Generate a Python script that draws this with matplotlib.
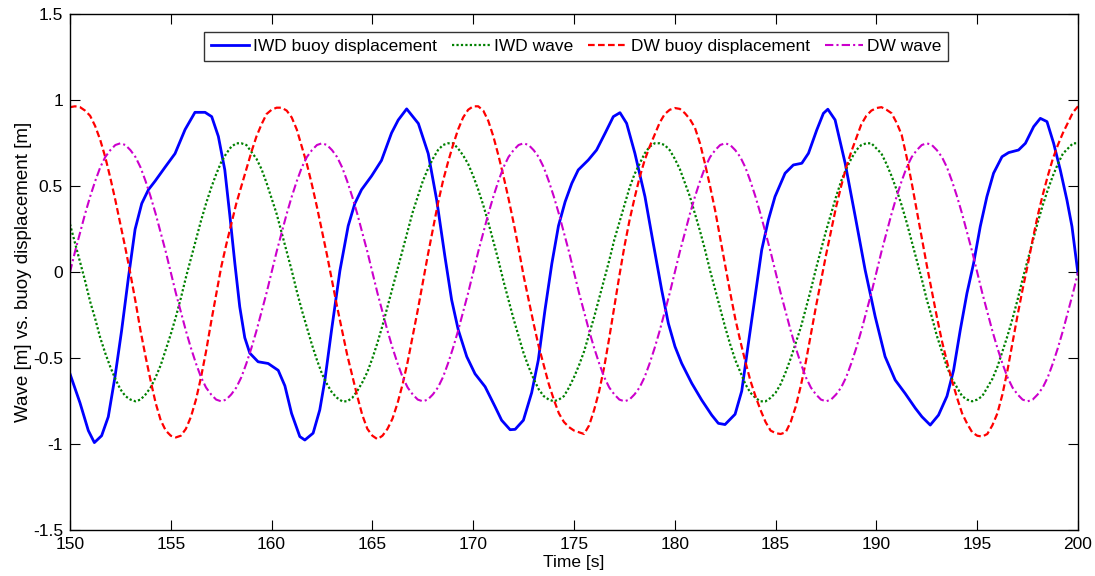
import numpy as np
import matplotlib
matplotlib.use("Agg")
import matplotlib.pyplot as plt

plt.rcParams['font.family'] = ['Liberation Sans', 'DejaVu Sans']

# ---------------- data ----------------
# common sampling grid for the wave / DW buoy series (0.25 s steps, 150..200 s)
time_grid = np.linspace(150.0, 200.0, 201)

iwd_wave = [
    0.28, 0.17, 0.06, -0.05, -0.17, -0.27, -0.38, -0.47, -0.55, -0.62,
    -0.68, -0.72, -0.74, -0.75, -0.74, -0.71, -0.67, -0.61, -0.54, -0.45,
    -0.36, -0.26, -0.15, -0.03, 0.08, 0.19, 0.30, 0.40, 0.49, 0.57,
    0.64, 0.69, 0.73, 0.75, 0.75, 0.74, 0.70, 0.66, 0.60, 0.52,
    0.43, 0.34, 0.23, 0.12, 0.01, -0.11, -0.22, -0.32, -0.42, -0.51,
    -0.59, -0.65, -0.70, -0.73, -0.75, -0.75, -0.73, -0.69, -0.64, -0.58,
    -0.50, -0.41, -0.31, -0.20, -0.09, 0.02, 0.13, 0.24, 0.35, 0.44,
    0.53, 0.60, 0.66, 0.71, 0.74, 0.75, 0.75, 0.72, 0.68, 0.63,
    0.56, 0.48, 0.39, 0.29, 0.18, 0.07, -0.05, -0.16, -0.27, -0.37,
    -0.47, -0.55, -0.62, -0.68, -0.72, -0.74, -0.75, -0.74, -0.72, -0.67,
    -0.61, -0.54, -0.46, -0.36, -0.26, -0.15, -0.04, 0.07, 0.19, 0.29,
    0.39, 0.49, 0.57, 0.63, 0.69, 0.73, 0.75, 0.75, 0.74, 0.71,
    0.66, 0.60, 0.52, 0.44, 0.34, 0.24, 0.13, 0.01, -0.10, -0.21,
    -0.32, -0.42, -0.51, -0.58, -0.65, -0.70, -0.73, -0.75, -0.75, -0.73,
    -0.70, -0.65, -0.58, -0.50, -0.41, -0.32, -0.21, -0.10, 0.02, 0.13,
    0.24, 0.34, 0.44, 0.53, 0.60, 0.66, 0.71, 0.74, 0.75, 0.75,
    0.72, 0.69, 0.63, 0.56, 0.48, 0.39, 0.29, 0.18, 0.07, -0.04,
    -0.16, -0.26, -0.37, -0.46, -0.55, -0.62, -0.67, -0.72, -0.74, -0.75,
    -0.74, -0.72, -0.67, -0.62, -0.55, -0.46, -0.37, -0.27, -0.16, -0.04,
    0.07, 0.18, 0.29, 0.39, 0.48, 0.56, 0.63, 0.69, 0.72, 0.75,
    0.75,
]

dw_buoy = [
    0.96, 0.965, 0.96, 0.94, 0.91, 0.85, 0.77, 0.67, 0.55, 0.42,
    0.28, 0.14, -0.01, -0.17, -0.34, -0.49, -0.63, -0.76, -0.86, -0.92,
    -0.95, -0.96, -0.95, -0.91, -0.84, -0.74, -0.61, -0.46, -0.29, -0.13,
    0.03, 0.16, 0.28, 0.40, 0.50, 0.60, 0.70, 0.79, 0.86, 0.92,
    0.945, 0.957, 0.957, 0.94, 0.90, 0.83, 0.73, 0.63, 0.51, 0.38,
    0.24, 0.10, -0.05, -0.20, -0.34, -0.48, -0.60, -0.72, -0.83, -0.91,
    -0.95, -0.97, -0.95, -0.91, -0.85, -0.76, -0.65, -0.52, -0.37, -0.22,
    -0.06, 0.10, 0.25, 0.40, 0.53, 0.64, 0.74, 0.83, 0.90, 0.945,
    0.965, 0.965, 0.94, 0.88, 0.79, 0.68, 0.56, 0.43, 0.29, 0.14,
    -0.02, -0.16, -0.30, -0.43, -0.54, -0.65, -0.74, -0.82, -0.87, -0.90,
    -0.92, -0.93, -0.94, -0.89, -0.80, -0.69, -0.55, -0.38, -0.20, -0.02,
    0.15, 0.30, 0.43, 0.55, 0.65, 0.73, 0.80, 0.87, 0.92, 0.945,
    0.955, 0.95, 0.925, 0.89, 0.84, 0.75, 0.63, 0.50, 0.36, 0.20,
    0.04, -0.12, -0.27, -0.40, -0.52, -0.63, -0.72, -0.80, -0.87, -0.92,
    -0.935, -0.94, -0.93, -0.87, -0.78, -0.66, -0.52, -0.36, -0.20, -0.05,
    0.10, 0.24, 0.38, 0.50, 0.61, 0.70, 0.78, 0.86, 0.91, 0.94,
    0.955, 0.96, 0.945, 0.925, 0.87, 0.80, 0.67, 0.52, 0.36, 0.20,
    0.04, -0.11, -0.26, -0.40, -0.52, -0.63, -0.73, -0.82, -0.88, -0.93,
    -0.95, -0.955, -0.94, -0.89, -0.82, -0.71, -0.57, -0.41, -0.25, -0.10,
    0.04, 0.19, 0.33, 0.45, 0.56, 0.66, 0.74, 0.81, 0.87, 0.93,
    0.965,
]

dw_wave = [
    0.00, 0.12, 0.23, 0.34, 0.44, 0.53, 0.61, 0.67, 0.71, 0.74,
    0.75, 0.74, 0.71, 0.67, 0.61, 0.53, 0.44, 0.34, 0.23, 0.12,
    0.00, -0.12, -0.23, -0.34, -0.44, -0.53, -0.61, -0.67, -0.71, -0.74,
    -0.75, -0.74, -0.71, -0.67, -0.61, -0.53, -0.44, -0.34, -0.23, -0.12,
    0.00, 0.12, 0.23, 0.34, 0.44, 0.53, 0.61, 0.67, 0.71, 0.74,
    0.75, 0.74, 0.71, 0.67, 0.61, 0.53, 0.44, 0.34, 0.23, 0.12,
    0.00, -0.12, -0.23, -0.34, -0.44, -0.53, -0.61, -0.67, -0.71, -0.74,
    -0.75, -0.74, -0.71, -0.67, -0.61, -0.53, -0.44, -0.34, -0.23, -0.12,
    0.00, 0.12, 0.23, 0.34, 0.44, 0.53, 0.61, 0.67, 0.71, 0.74,
    0.75, 0.74, 0.71, 0.67, 0.61, 0.53, 0.44, 0.34, 0.23, 0.12,
    0.00, -0.12, -0.23, -0.34, -0.44, -0.53, -0.61, -0.67, -0.71, -0.74,
    -0.75, -0.74, -0.71, -0.67, -0.61, -0.53, -0.44, -0.34, -0.23, -0.12,
    0.00, 0.12, 0.23, 0.34, 0.44, 0.53, 0.61, 0.67, 0.71, 0.74,
    0.75, 0.74, 0.71, 0.67, 0.61, 0.53, 0.44, 0.34, 0.23, 0.12,
    0.00, -0.12, -0.23, -0.34, -0.44, -0.53, -0.61, -0.67, -0.71, -0.74,
    -0.75, -0.74, -0.71, -0.67, -0.61, -0.53, -0.44, -0.34, -0.23, -0.12,
    0.00, 0.12, 0.23, 0.34, 0.44, 0.53, 0.61, 0.67, 0.71, 0.74,
    0.75, 0.74, 0.71, 0.67, 0.61, 0.53, 0.44, 0.34, 0.23, 0.12,
    0.00, -0.12, -0.23, -0.34, -0.44, -0.53, -0.61, -0.67, -0.71, -0.74,
    -0.75, -0.74, -0.71, -0.67, -0.61, -0.53, -0.44, -0.34, -0.23, -0.12,
    0.00,
]

# IWD buoy displacement: irregular, read at its own time points
iwd_buoy_time = [
    150.0, 150.5, 150.91, 151.21, 151.57, 151.9, 152.23, 152.56, 152.9, 153.23,
    153.56, 153.89, 154.22, 154.71, 155.21, 155.71, 156.2, 156.7, 157.03, 157.36,
    157.68, 157.93, 158.18, 158.42, 158.67, 158.92, 159.33, 159.83, 160.33, 160.66,
    160.99, 161.4, 161.65, 162.06, 162.39, 162.64, 162.97, 163.39, 163.8, 164.13,
    164.46, 164.96, 165.45, 165.95, 166.28, 166.7, 167.28, 167.77, 168.19, 168.6,
    168.93, 169.26, 169.68, 170.09, 170.59, 171.08, 171.41, 171.83, 172.08, 172.49,
    172.9, 173.23, 173.56, 173.9, 174.23, 174.56, 174.89, 175.21, 175.71, 176.12,
    176.54, 176.95, 177.28, 177.61, 178.02, 178.52, 178.93, 179.35, 179.68, 180.01,
    180.34, 180.84, 181.33, 181.83, 182.16, 182.49, 182.99, 183.32, 183.65, 183.98,
    184.31, 184.64, 184.97, 185.47, 185.88, 186.3, 186.63, 187.04, 187.37, 187.59,
    187.95, 188.45, 188.95, 189.44, 189.94, 190.43, 190.93, 191.43, 191.93, 192.26,
    192.67, 193.08, 193.5, 193.83, 194.16, 194.49, 194.82, 195.15, 195.48, 195.81,
    196.23, 196.56, 197.05, 197.39, 197.8, 198.13, 198.46, 198.79, 199.12, 199.45,
    199.7, 200.0,
]
iwd_buoy = [
    -0.59, -0.76, -0.92, -0.99, -0.95, -0.84, -0.61, -0.34, -0.03, 0.25,
    0.40, 0.48, 0.53, 0.61, 0.69, 0.83, 0.93, 0.93, 0.905, 0.79,
    0.595, 0.33, 0.05, -0.20, -0.38, -0.47, -0.52, -0.53, -0.57, -0.66,
    -0.82, -0.955, -0.975, -0.935, -0.80, -0.63, -0.34, 0.01, 0.27, 0.40,
    0.48, 0.56, 0.65, 0.81, 0.885, 0.95, 0.865, 0.69, 0.42, 0.09,
    -0.16, -0.335, -0.49, -0.59, -0.665, -0.78, -0.86, -0.915, -0.913, -0.86,
    -0.70, -0.51, -0.22, 0.05, 0.27, 0.41, 0.517, 0.595, 0.653, 0.711,
    0.808, 0.905, 0.928, 0.866, 0.692, 0.44, 0.169, -0.103, -0.297, -0.432,
    -0.529, -0.645, -0.742, -0.83, -0.878, -0.885, -0.825, -0.69, -0.413, -0.141,
    0.13, 0.304, 0.44, 0.576, 0.624, 0.634, 0.692, 0.827, 0.924, 0.948,
    0.886, 0.634, 0.324, 0.014, -0.258, -0.49, -0.626, -0.705, -0.79, -0.84,
    -0.888, -0.83, -0.72, -0.568, -0.335, -0.122, 0.052, 0.266, 0.44, 0.576,
    0.672, 0.696, 0.711, 0.75, 0.847, 0.895, 0.876, 0.75, 0.595, 0.42,
    0.266, -0.01,
]

x_ticks = [150, 155, 160, 165, 170, 175, 180, 185, 190, 195, 200]
y_ticks = [-1.5, -1, -0.5, 0, 0.5, 1, 1.5]
y_tick_labels = ['-1.5', '-1', '-0.5', '0', '0.5', '1', '1.5']
series_labels = ['IWD buoy displacement', 'IWD wave', 'DW buoy displacement', 'DW wave']

# ---------------- figure ----------------
fig = plt.figure(figsize=(10.95, 5.76), dpi=100)
ax = fig.add_axes([0.0639, 0.0793, 0.9206, 0.8959])

ax.plot(iwd_buoy_time, iwd_buoy, color='#0000FF', lw=2.0, ls='-',
        solid_joinstyle='round', label=series_labels[0])
ax.plot(time_grid, iwd_wave, color='#008000', lw=1.6, ls=(0, (1, 1)), label=series_labels[1])
ax.plot(time_grid, dw_buoy, color='#FF0000', lw=1.6, ls=(0, (3, 1.5)), label=series_labels[2])
ax.plot(time_grid, dw_wave, color='#CC00CC', lw=1.5, ls=(0, (4, 1.5, 1, 1.5)), label=series_labels[3])

ax.set_xlim(150, 200)
ax.set_ylim(-1.5, 1.5)
ax.set_xticks(x_ticks)
ax.set_xticklabels([str(v) for v in x_ticks])
ax.set_yticks(y_ticks)
ax.set_yticklabels(y_tick_labels)
ax.tick_params(direction='in', length=7, width=0.8, top=True, right=True,
               labelsize=12.5, colors='black', pad=5)
for s in ax.spines.values():
    s.set_linewidth(1.0)
    s.set_color('black')

ax.set_xlabel('Time [s]', fontsize=12.5, labelpad=2)
ax.set_ylabel('Wave [m] vs. buoy displacement [m]', fontsize=13.5, labelpad=1)

leg = ax.legend(loc='upper center', bbox_to_anchor=(0.502, 0.966), ncol=4,
                fontsize=12.5, frameon=True, fancybox=False, borderaxespad=0,
                handlelength=2.2, handletextpad=0.25, columnspacing=0.85,
                borderpad=0.4)
leg.get_frame().set_edgecolor('black')
leg.get_frame().set_linewidth(1.0)

fig.savefig('out.png', dpi=100)
